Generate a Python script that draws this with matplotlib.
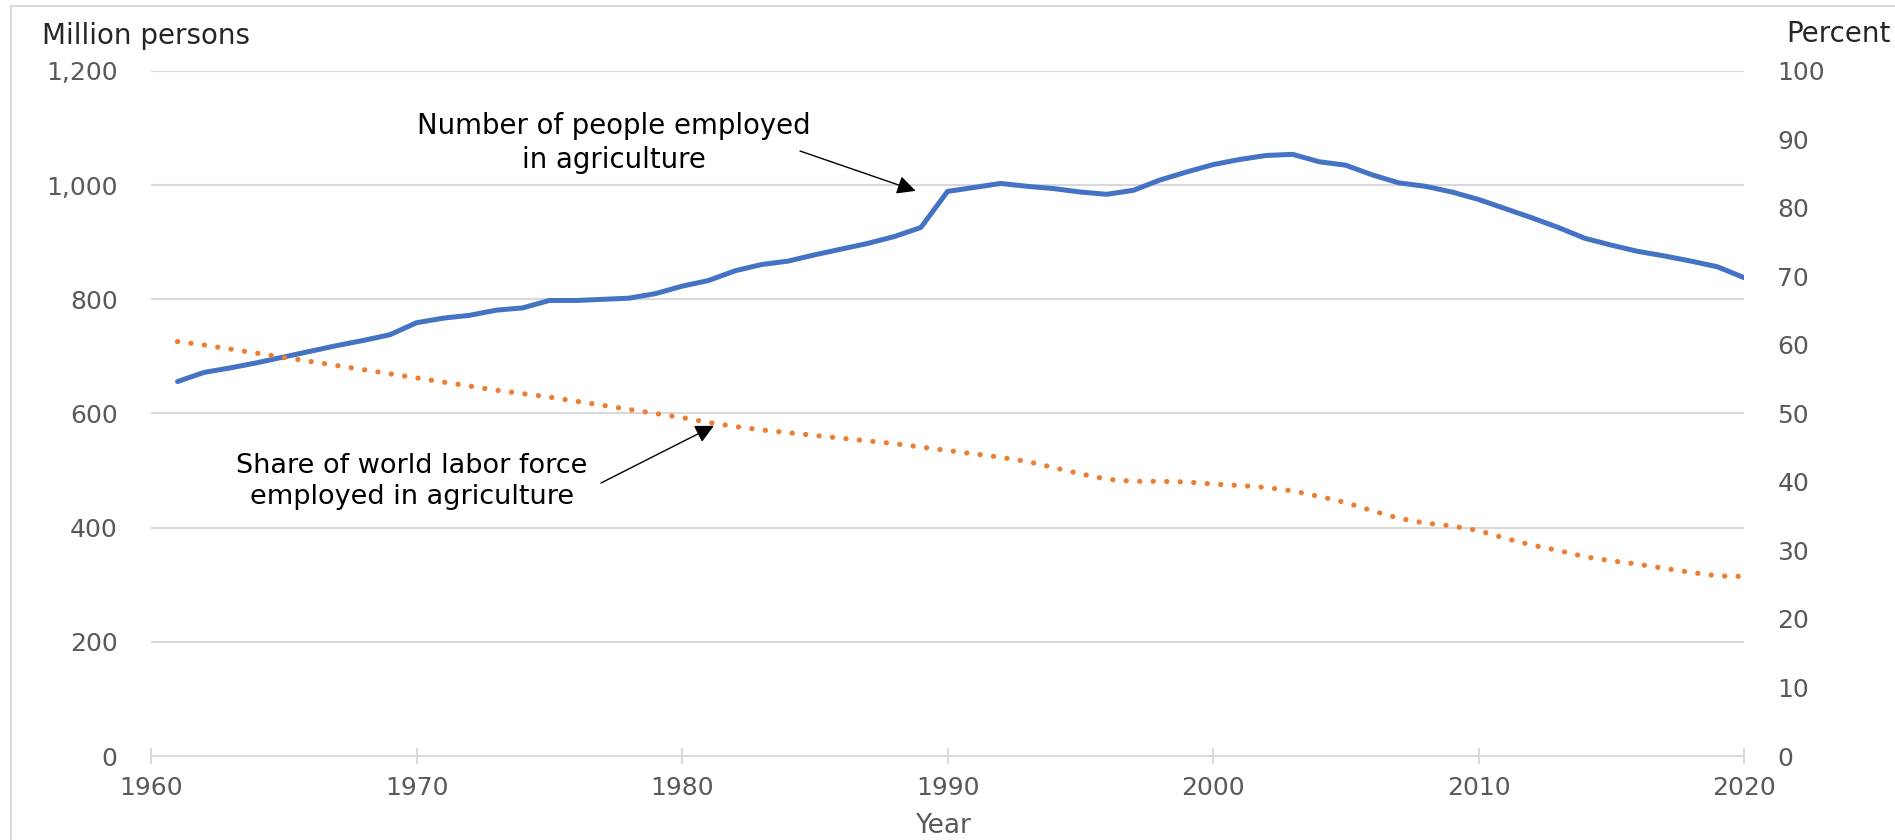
import matplotlib
matplotlib.use("Agg")
import matplotlib.pyplot as plt
from matplotlib.patches import Rectangle

# ---- data ----
years = list(range(1961, 2021))
employed_million = [
    656, 672, 680, 689, 699, 709, 719, 728, 738, 759,
    767, 772, 781, 785, 798, 798, 800, 802, 810, 823,
    833, 850, 861, 867, 878, 888, 898, 910, 926, 989,
    996, 1003, 998, 994, 988, 984, 991, 1009, 1023, 1036,
    1045, 1052, 1054, 1041, 1035, 1018, 1004, 998, 988, 975,
    959, 943, 926, 907, 895, 884, 876, 867, 857, 838,
]
share_percent = [
    60.5, 60.0, 59.4, 58.8, 58.2, 57.6, 57.0, 56.4, 55.8, 55.2,
    54.6, 54.0, 53.4, 52.9, 52.4, 51.8, 51.2, 50.6, 50.0, 49.4,
    48.7, 48.1, 47.6, 47.2, 46.8, 46.4, 46.0, 45.6, 45.1, 44.6,
    44.1, 43.6, 43.0, 42.1, 41.2, 40.4, 40.1, 40.1, 40.0, 39.7,
    39.5, 39.2, 38.7, 37.9, 37.0, 35.8, 34.7, 34.0, 33.6, 32.9,
    31.8, 30.8, 30.0, 29.1, 28.5, 28.0, 27.4, 26.8, 26.3, 26.2,
]
x_ticks = [1960, 1970, 1980, 1990, 2000, 2010, 2020]
left_ticks = [0, 200, 400, 600, 800, 1000, 1200]
left_labels = ["0", "200", "400", "600", "800", "1,000", "1,200"]
right_ticks = [0, 10, 20, 30, 40, 50, 60, 70, 80, 90, 100]

BLUE = "#4472C4"
ORANGE = "#ED7D31"
GRID = "#D9D9D9"
TICKC = "#595959"

W, H = 1895, 840
fig = plt.figure(figsize=(W / 100, H / 100), dpi=100)
fig.patch.set_facecolor("white")

L, R, B, T = 151, 1744, 756, 71
ax = fig.add_axes([L / W, 1 - B / H, (R - L) / W, (B - T) / H])
ax2 = ax.twinx()

# figure border (top + left visible)
fig.patches.append(Rectangle((11 / W, -0.1), 1.2, (H - 6) / H + 0.1,
                             transform=fig.transFigure, fill=False,
                             edgecolor=GRID, lw=1.5))

ax.set_xlim(1960, 2020)
ax.set_ylim(0, 1200)
ax2.set_ylim(0, 100)

for a in (ax, ax2):
    for s in a.spines.values():
        s.set_visible(False)

TS = 18
ax.set_yticks(left_ticks)
ax.set_yticklabels(left_labels)
ax.yaxis.grid(True, color=GRID, lw=1.5)
ax.set_axisbelow(True)
ax.tick_params(axis="y", length=0, pad=24, labelsize=TS, labelcolor=TICKC)

ax2.set_yticks(right_ticks)
ax2.tick_params(axis="y", length=0, pad=24, labelsize=TS, labelcolor=TICKC)

ax.spines["bottom"].set_visible(True)
ax.spines["bottom"].set_color(GRID)
ax.spines["bottom"].set_linewidth(1.5)
ax.set_xticks(x_ticks)
ax.tick_params(axis="x", direction="inout", length=11, width=1.5, color=GRID,
               pad=9, labelsize=TS, labelcolor=TICKC)

ax.plot(years, employed_million, color=BLUE, lw=3.6, solid_capstyle="round",
        solid_joinstyle="round", zorder=3)
ax2.plot(years, share_percent, color=ORANGE, lw=3.8,
         linestyle=(0, (0.01, 2.55)), dash_capstyle="round", zorder=3)

# axis titles
fig.text(42 / W, 1 - 36 / H, "Million persons", ha="left", va="center",
         fontsize=20, color="#262626")
fig.text(1786 / W, 1 - 34 / H, "Percent", ha="left", va="center",
         fontsize=20, color="#262626")
fig.text(943 / W, 1 - 826 / H, "Year", ha="center", va="center",
         fontsize=19, color=TICKC)

# annotations
fig.text(614 / W, 1 - 143 / H, "Number of people employed\nin agriculture",
         ha="center", va="center", multialignment="center", fontsize=19.8,
         color="black", linespacing=1.25)
ax.annotate("", xy=(1988.8, 990), xycoords="data",
            xytext=(800, H - 151), textcoords="figure pixels",
            arrowprops=dict(arrowstyle="-|>", color="black", lw=1.0,
                            mutation_scale=28, shrinkA=0, shrinkB=0))

fig.text(412 / W, 1 - 482 / H, "Share of world labor force\nemployed in agriculture",
         ha="center", va="center", multialignment="center", fontsize=19.5,
         color="black", linespacing=1.25)
ax2.annotate("", xy=(1981.2, 48.2), xycoords="data",
             xytext=(601, H - 483), textcoords="figure pixels",
             arrowprops=dict(arrowstyle="-|>", color="black", lw=1.0,
                             mutation_scale=28, shrinkA=0, shrinkB=0))

fig.savefig("out.png", dpi=100)
